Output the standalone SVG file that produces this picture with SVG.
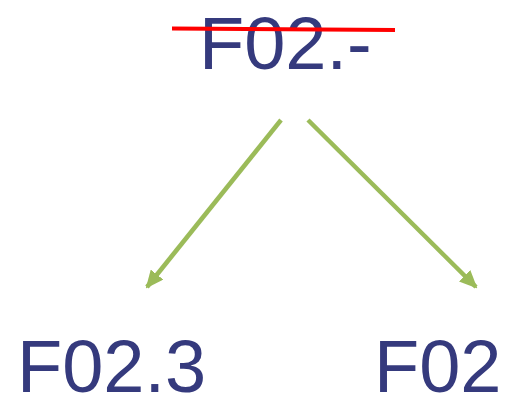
<svg xmlns="http://www.w3.org/2000/svg" width="508" height="396" viewBox="0 0 508 396">
<style>
.t{font-family:"Liberation Sans",Arial,sans-serif;font-size:74px;fill:#353A7D}
.c{stroke:#9BBB59;stroke-width:4.5;fill:none}
</style>
<defs>
<marker id="ah" markerUnits="userSpaceOnUse" markerWidth="18" markerHeight="16" viewBox="0 0 18 16" refX="16" refY="8" orient="auto">
<path d="M0,0 L18,8 L0,16 Z" fill="#9BBB59"/>
</marker>
</defs>
<rect width="508" height="396" fill="#fff"/>
<g id="n1"><text class="t" x="199" y="69">F02.-</text>
<line x1="172" y1="28.5" x2="395" y2="30" stroke="#FF0000" stroke-width="4"/></g>
<g id="n2"><text class="t" x="17" y="392">F02.3</text></g>
<g id="n3"><text class="t" x="374" y="392">F02</text></g>
<g id="connectors">
<line class="c" x1="281" y1="120" x2="147" y2="287" marker-end="url(#ah)"/>
<line class="c" x1="308" y1="120" x2="476" y2="287" marker-end="url(#ah)"/>
</g>
</svg>
